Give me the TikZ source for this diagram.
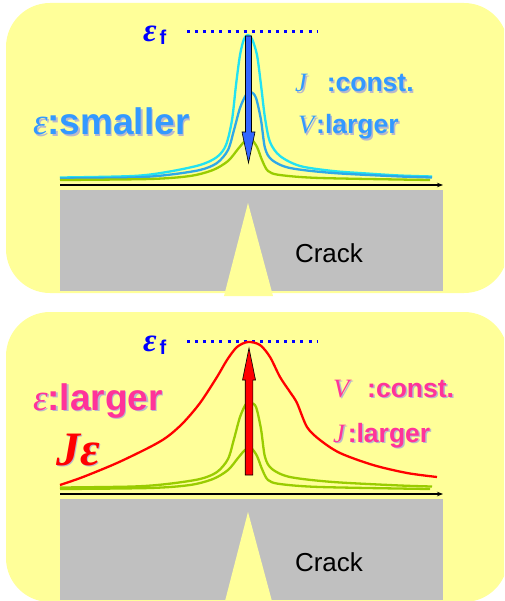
\documentclass[tikz,border=0pt]{standalone}
\usepackage{fontspec}
\setmainfont{Liberation Sans}
\newfontfamily\tms{Liberation Serif}
\usetikzlibrary{arrows.meta}
\definecolor{bgyellow}{HTML}{FFFF99}
\definecolor{specgray}{HTML}{C0C0C0}
\definecolor{cyanc}{HTML}{22E2F2}
\definecolor{midblue}{HTML}{2EA8E8}
\definecolor{grn}{HTML}{99CC00}
\definecolor{txtblue}{HTML}{3399FF}
\definecolor{arrblue}{HTML}{3366FF}
\definecolor{pinkc}{HTML}{FF3399}
\definecolor{efblue}{HTML}{0000FF}
\definecolor{shadowc}{HTML}{B8B8CC}
\newcommand\shlabel[4]{%
  \node[#3, text=shadowc, anchor=base west, xshift=1.5pt, yshift=-1.5pt] (#1s) at (#2) {#4};
  \node[#3, anchor=base west] (#1) at (#2) {#4};}
\begin{document}
\begin{tikzpicture}[x=1pt,y=-1pt,
  txt/.style={inner sep=0pt, outer sep=0pt},
  bigsb/.style={txt, font=\fontsize{37}{37}\selectfont\bfseries},
  smallsb/.style={txt, font=\fontsize{26.5}{26.5}\selectfont\bfseries},
  curve/.style={line width=2.3pt, line join=round},
  axisline/.style={line width=1.2pt, -{Stealth[length=6pt,width=4.5pt]}},
  dotline/.style={efblue, line width=3pt, dash pattern=on 3pt off 5.1pt},
  crack/.style={txt, font=\fontsize{26}{26}\selectfont, anchor=base},
  epsf/.style={txt, text=efblue},
  arrowshape/.style={draw=black, line width=0.6pt, line join=miter},
  panel/.pic={
    \fill[bgyellow, rounded corners=44pt] (6,3) rectangle (508,293);
    \fill[specgray] (60,190) rectangle (443,291);
    \fill[bgyellow] (248,203) -- (273,296) -- (224,296) -- cycle;
    \coordinate (-ax0) at (60,185);
    \coordinate (-ax1) at (443,185);
    \draw[axisline] (-ax0) -- (-ax1);
    \node[crack] (-crack) at (329,262) {Crack};
    \coordinate (-d0) at (187,32);
    \coordinate (-d1) at (318,32);
    \draw[dotline] (-d0) -- (-d1);
    \node[epsf, anchor=base west] (-eps) at (143,42)
      {\tms\bfseries\itshape\fontsize{33}{33}\selectfont ε};
    \node[epsf, anchor=base west] (-f) at (159.5,45)
      {\bfseries\fontsize{20}{20}\selectfont f};
  }]
\useasboundingbox (0,0) rectangle (504,601);
\clip (0,0) rectangle (504,601);

%% ---------------- top panel ----------------
\pic (top) at (0,0) {panel};
\draw[curve, cyanc] plot[smooth] coordinates {(60,177.5) (133,176) (167,172) (200,165) (217,157) (226,145) (232,120) (236,85) (240,55) (244,39) (248,35) (252,39) (257,55) (261,85) (265,118) (270,142) (280,156) (300,166) (333,171) (367,173.5) (400,175.5) (432,176.5)};
\draw[curve, midblue] plot[smooth] coordinates {(60,178.5) (133,177.5) (167,175) (200,170) (217,163) (228,150) (234,130) (240,108) (246,95) (251,92) (256,98) (261,120) (265,148) (272,160) (290,168) (333,173) (400,176.5) (432,177.5)};
\draw[curve, grn] plot[smooth] coordinates {(60,180) (150,179) (190,176) (213,170) (228,161) (238,149) (245,141) (251,139) (257,147) (262,160) (268,171) (280,175) (320,178) (430,180)};
\draw[arrowshape, fill=arrblue] (245.5,36) -- (251.5,36) -- (251.5,132) -- (255,132) -- (248.5,163) -- (242,132) -- (245.5,132) -- cycle;

\shlabel{tsm}{33,135}{bigsb, text=txtblue}{{\tms\mdseries\itshape ε}:smaller}
\shlabel{tjc}{295,92}{smallsb, text=txtblue}{{\tms\mdseries\itshape J}\hspace{20pt}:const.}
\shlabel{tvl}{298,134}{smallsb, text=txtblue}{{\tms\mdseries\itshape V}\hspace{2pt}:larger}

%% ---------------- bottom panel ----------------
\pic (bot) at (0,309) {panel};
\begin{scope}[shift={(0,309)}]
\draw[curve, grn] plot[smooth] coordinates {(60,178.5) (133,177.5) (167,175) (200,170) (217,163) (228,150) (234,130) (240,108) (246,95) (251,94) (256,98) (261,120) (265,148) (272,160) (290,168) (333,173) (400,176.5) (432,177.5)};
\draw[curve, grn] plot[smooth] coordinates {(60,180) (150,179) (190,176) (213,170) (228,161) (238,149) (245,141) (251,139) (257,147) (262,160) (268,171) (280,175) (320,178) (430,180)};
\draw[curve, red] plot[smooth] coordinates {(60,176) (83,168) (117,154) (150,138) (167,128) (183,114) (200,94) (217,68) (227,51) (237,38) (248,33) (260,36) (270,48) (280,68) (290,83) (297,94) (307,118) (320,131) (340,144) (373,156) (407,164) (437,168)};
\draw[arrowshape, fill=red] (245.2,166) -- (252.8,166) -- (252.8,71) -- (255.5,71) -- (249,39) -- (242.5,71) -- (245.2,71) -- cycle;

\shlabel{bla}{33,101}{bigsb, text=pinkc}{{\tms\mdseries\itshape ε}:larger}
\shlabel{bje}{56,156}{txt, text=red, font=\tms\bfseries\itshape\fontsize{48}{48}\selectfont}{Jε}
\shlabel{bvc}{333,88}{smallsb, text=pinkc}{{\tms\mdseries\itshape V}\hspace{18pt}:const.}
\shlabel{bjl}{333,133}{smallsb, text=pinkc}{{\tms\mdseries\itshape J}\hspace{3pt}:larger}
\end{scope}
\end{tikzpicture}
\end{document}
